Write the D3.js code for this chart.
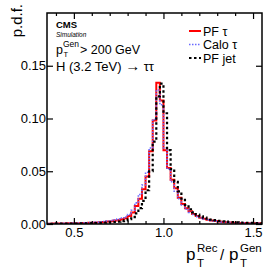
<!DOCTYPE html>
<html>
<head>
<meta charset="utf-8">
<script src="https://cdn.jsdelivr.net/npm/d3@7"></script>
<style>
  body { margin: 0; background: #fff; }
  text { font-family: "Liberation Sans", Arial, sans-serif; fill: #000; }
</style>
</head>
<body>
<script>
// histogram binning (left edge of first bin, bin width)
var binLow = 0.34, binWidth = 0.02;

// PF tau, Calo tau, PF jet responses (p.d.f. per bin)
var pfTau = [
  0.0003, 0.0003, 0.0004, 0.0004, 0.0005, 0.0005, 0.0006, 0.0006, 0.0007, 0.0008, 0.0009, 0.0010, 0.0011,
  0.0013, 0.0015, 0.0017, 0.0020, 0.0023, 0.0027, 0.0032, 0.0038, 0.0045, 0.0055,
  0.0075, 0.011, 0.017, 0.024, 0.033, 0.045, 0.069, 0.098,
  0.134, 0.117, 0.070, 0.053, 0.042, 0.034, 0.025, 0.019, 0.015, 0.012, 0.0095, 0.0075, 0.006,
  0.005, 0.004, 0.0034, 0.0028, 0.0024, 0.002, 0.0017, 0.0015, 0.0013, 0.0011, 0.001, 0.0009,
  0.0008, 0.0007, 0.0006, 0.0006, 0.0005
];
var caloTau = [
  0.0004, 0.0004, 0.0005, 0.0005, 0.0006, 0.0006, 0.0007, 0.0008, 0.0009, 0.0010, 0.0011, 0.0012, 0.0014,
  0.0016, 0.0018, 0.0021, 0.0024, 0.0028, 0.0033, 0.0039, 0.0047, 0.0057, 0.0069,
  0.009, 0.013, 0.020, 0.028, 0.037, 0.049, 0.072, 0.099,
  0.127, 0.113, 0.072, 0.052, 0.040, 0.031, 0.024, 0.018, 0.014, 0.011, 0.009, 0.007, 0.0057,
  0.0047, 0.0039, 0.0033, 0.0027, 0.0023, 0.0019, 0.0016, 0.0014, 0.0012, 0.0011, 0.001, 0.0009,
  0.0008, 0.0007, 0.0006, 0.0006, 0.0005
];
var pfJet = [
  0.0002, 0.0002, 0.0002, 0.0003, 0.0003, 0.0003, 0.0004, 0.0004, 0.0004, 0.0005, 0.0005, 0.0006, 0.0007,
  0.0008, 0.0009, 0.0010, 0.0012, 0.0014, 0.0016, 0.0019, 0.0023, 0.0028, 0.0034,
  0.0045, 0.0065, 0.010, 0.015, 0.022, 0.032, 0.050, 0.078,
  0.121, 0.133, 0.105, 0.070, 0.052, 0.040, 0.031, 0.024, 0.018, 0.014, 0.011, 0.0088, 0.0072,
  0.006, 0.005, 0.0042, 0.0036, 0.003, 0.0026, 0.0022, 0.0019, 0.0017, 0.0015, 0.0013, 0.0012,
  0.0011, 0.001, 0.0009, 0.0008, 0.0008
];

var xMajor = [0.5, 1.0, 1.5];
var xMinor = [0.4, 0.6, 0.7, 0.8, 0.9, 1.1, 1.2, 1.3, 1.4];
var yMajor = [0.00, 0.05, 0.10, 0.15];

var series = [
  { label: "PF \u03c4", values: pfTau, color: "#ff0000", width: 2, dash: null },
  { label: "Calo \u03c4", values: caloTau, color: "#6a6aff", width: 1.6, dash: "1.5,1.5" },
  { label: "PF jet", values: pfJet, color: "#000", width: 2.2, dash: "2.5,2.5" }
];

var W = 280, H = 271;
var L = 47, R = 262, T = 13, B = 224;

var svg = d3.select("body").append("svg").attr("width", W).attr("height", H);

var x = d3.scaleLinear().domain([0.35, 1.55]).range([L, R]);
var y = d3.scaleLinear().domain([0, 0.2]).range([B, T]);

svg.append("clipPath").attr("id", "plotclip")
  .append("rect").attr("x", L).attr("y", T).attr("width", R - L).attr("height", B - T);

var line = d3.line()
  .x(function (d) { return x(d[0]); })
  .y(function (d) { return y(d[1]); })
  .curve(d3.curveStepAfter);

var g = svg.append("g").attr("clip-path", "url(#plotclip)");
series.forEach(function (s) {
  var pts = s.values.map(function (v, i) { return [binLow + i * binWidth, v]; });
  pts.push([binLow + s.values.length * binWidth, s.values[s.values.length - 1]]);
  g.append("path")
    .attr("d", line(pts))
    .attr("fill", "none")
    .attr("stroke", s.color)
    .attr("stroke-width", s.width)
    .attr("stroke-dasharray", s.dash);
});

// axes, ROOT-like: ticks inside, mirrored on top / right
var axBottom = svg.append("g").attr("transform", "translate(0," + B + ")");
axBottom.call(d3.axisBottom(x).tickValues(xMajor).tickSize(-6).tickPadding(4).tickFormat(d3.format(".1f")));
var axBottomMinor = svg.append("g").attr("transform", "translate(0," + B + ")");
axBottomMinor.call(d3.axisBottom(x).tickValues(xMinor).tickSize(-3).tickFormat(""));
var axTop = svg.append("g").attr("transform", "translate(0," + T + ")");
axTop.call(d3.axisTop(x).tickValues(xMajor).tickSize(-6).tickFormat(""));
var axTopMinor = svg.append("g").attr("transform", "translate(0," + T + ")");
axTopMinor.call(d3.axisTop(x).tickValues(xMinor).tickSize(-3).tickFormat(""));

var axLeft = svg.append("g").attr("transform", "translate(" + L + ",0)");
axLeft.call(d3.axisLeft(y).tickValues(yMajor).tickSize(-6).tickPadding(1).tickFormat(d3.format(".2f")));
var axRight = svg.append("g").attr("transform", "translate(" + R + ",0)");
axRight.call(d3.axisRight(y).tickValues(yMajor).tickSize(-6).tickFormat(""));

svg.selectAll(".domain").remove();
svg.selectAll(".tick line").attr("stroke", "#000").attr("stroke-width", 1.2);
svg.selectAll(".tick text").attr("font-size", 13)
  .attr("font-family", "'Liberation Sans', Arial, sans-serif").attr("fill", "#000");

svg.append("rect").attr("x", L).attr("y", T).attr("width", R - L).attr("height", B - T)
  .attr("fill", "none").attr("stroke", "#000").attr("stroke-width", 1.5);

// axis titles
svg.append("text").attr("transform", "translate(22,4) rotate(-90)")
  .attr("text-anchor", "end").attr("font-size", 15).text("p.d.f.");

function label(tx, ty, size, str) {
  return svg.append("text").attr("x", tx).attr("y", ty).attr("font-size", size).text(str);
}
label(186, 260, 17, "p");
label(197, 252, 11.5, "Rec");
label(197, 267, 11.5, "T");
label(220, 260, 15, "/");
label(229, 260, 17, "p");
label(240, 252, 11.5, "Gen");
label(240, 267, 11.5, "T");

// CMS labels
label(56, 28, 9.5, "CMS").attr("font-weight", "bold");
label(56, 37, 6.5, "Simulation").attr("font-style", "italic");
label(56, 54, 12.5, "p");
label(63, 47, 8.5, "Gen");
label(63.5, 57, 7.5, "T");
label(80, 54, 12.5, "> 200 GeV");
var hl = label(56, 71, 13, "H (3.2 TeV) ");
hl.append("tspan").attr("font-size", 15).text("\u2192");
hl.append("tspan").text(" \u03c4\u03c4");

// legend
var leg = svg.append("g");
series.forEach(function (s, i) {
  var yy = 31 + i * 13.5;
  leg.append("line").attr("x1", 189).attr("x2", 201).attr("y1", yy).attr("y2", yy)
    .attr("stroke", s.color).attr("stroke-width", s.width).attr("stroke-dasharray", s.dash);
  leg.append("text").attr("x", 203).attr("y", yy + 4.5).attr("font-size", 12.5).text(s.label);
});
</script>
</body>
</html>
